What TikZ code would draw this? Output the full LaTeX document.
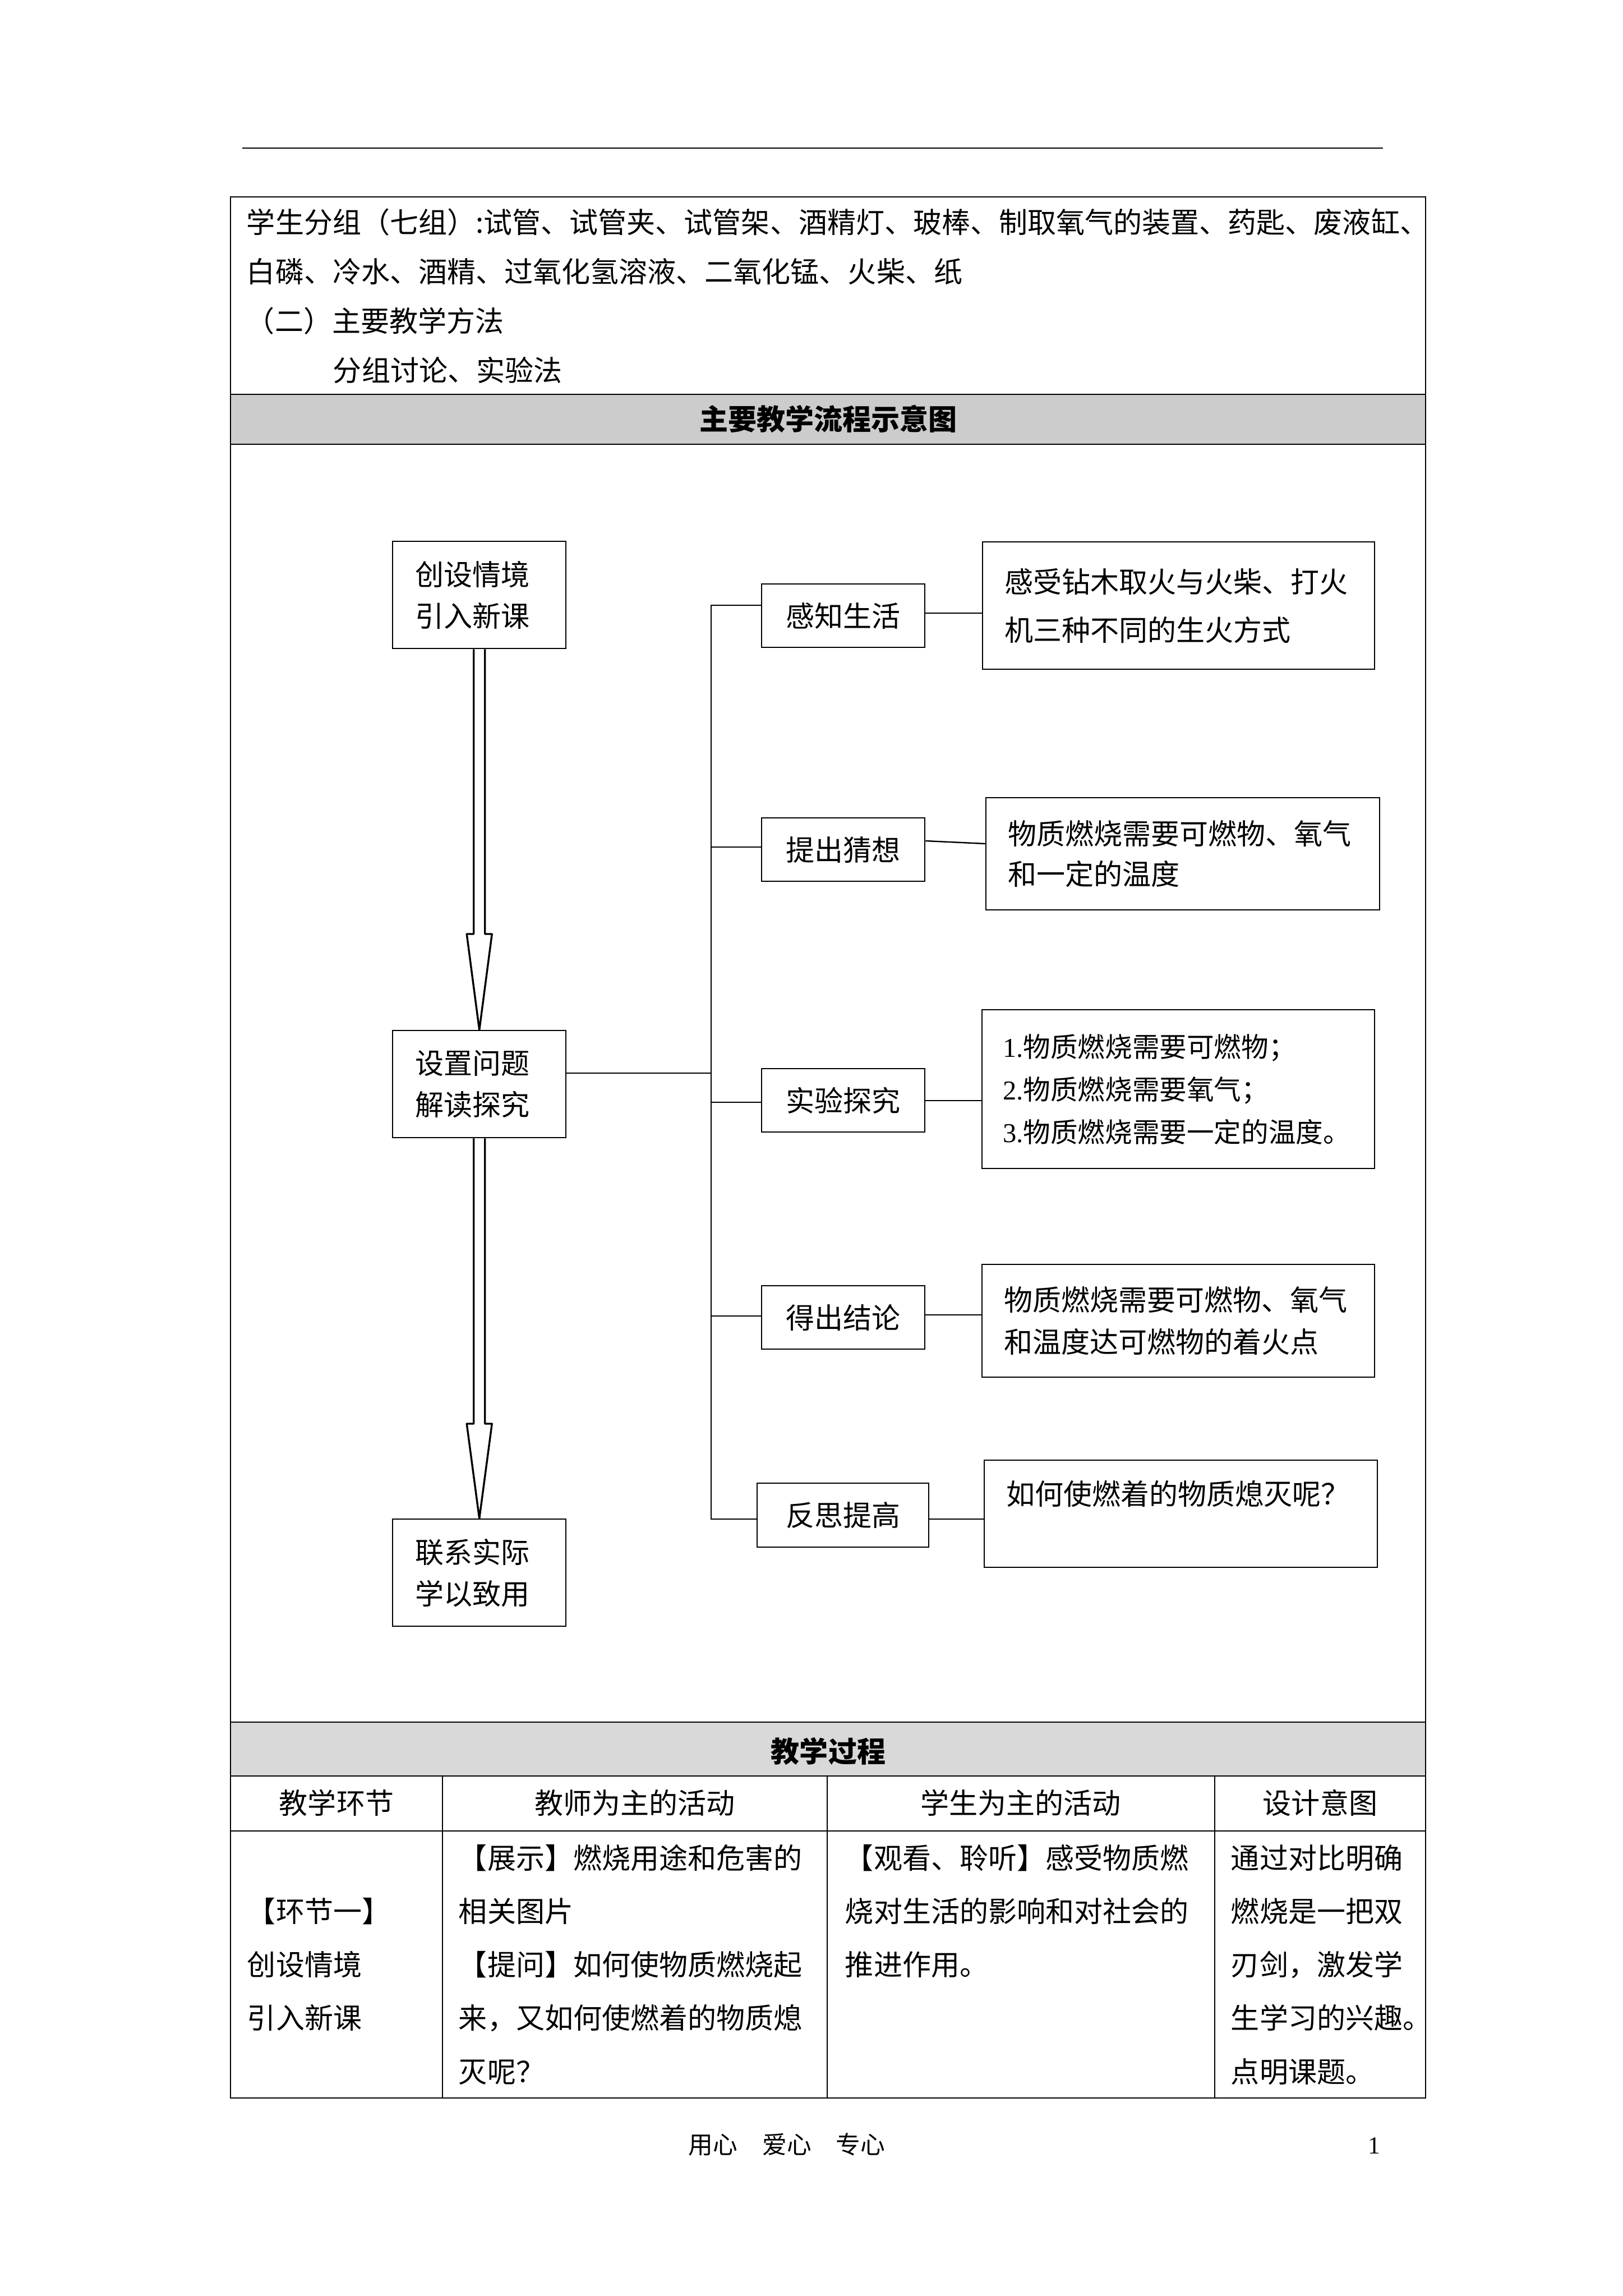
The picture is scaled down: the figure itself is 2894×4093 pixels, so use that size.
\documentclass[tikz,border=0pt]{standalone}
\usepackage{fontspec}
\setmainfont{Liberation Serif}
\newfontfamily\cjk{Noto Sans CJK SC}
\usetikzlibrary{calc}
\definecolor{bandA}{HTML}{CCCCCC}
\definecolor{bandB}{HTML}{D9D9D9}
\tikzset{
  tline/.style={line width=0.55pt},
  txt/.style={inner sep=0pt, font=\cjk\fontsize{10.5pt}{12pt}\selectfont},
  ttl/.style={inner sep=0pt, font=\cjk\bfseries\fontsize{10.5pt}{12pt}\selectfont},
  foot/.style={inner sep=0pt, font=\cjk\fontsize{9pt}{11pt}\selectfont},
  bigbox/.style={draw, line width=0.5pt, anchor=north west, minimum width=63.56pt, minimum height=39.29pt,
    inner xsep=8.23pt, inner ysep=0pt, text width=47.1pt, align=left,
    font=\cjk\fontsize{10.5pt}{15.2pt}\selectfont},
  smallbox/.style={draw, line width=0.5pt, anchor=north west, minimum width=59.86pt, minimum height=23.24pt,
    inner sep=0pt, font=\cjk\fontsize{10.5pt}{12pt}\selectfont},
  rbox/.style={draw, line width=0.5pt, anchor=north west, inner xsep=8pt, inner ysep=0pt, align=left},
  link/.style={line width=0.5pt},
  harrow/.style={line width=0.7pt, line join=round, fill=white},
}
\begin{document}
\begin{tikzpicture}[x=0.205693pt, y=-0.205693pt]
\useasboundingbox (0,0) rectangle (2894,4093);
\fill[white] (0,0) rectangle (2894,4093);

% page header line
\draw[line width=0.5pt] (432,264) -- (2466,264);

% table fills
\fill[bandA] (411,703) rectangle (2542,792);
\fill[bandB] (411,3070) rectangle (2542,3166);
% table lines
\draw[tline] (411,351) rectangle (2542,3740);
\draw[tline] (411,703) -- (2542,703);
\draw[tline] (411,792) -- (2542,792);
\draw[tline] (411,3070) -- (2542,3070);
\draw[tline] (411,3166) -- (2542,3166);
\draw[tline] (411,3264) -- (2542,3264);
\draw[tline] (789,3166) -- (789,3740);
\draw[tline] (1475,3166) -- (1475,3740);
\draw[tline] (2166,3166) -- (2166,3740);

% top cell text
\node[txt, anchor=base west] (p1) at (439,415) {学生分组（七组）:试管、试管夹、试管架、酒精灯、玻棒、制取氧气的装置、药匙、废液缸、};
\node[txt, anchor=base west] (p2) at (439,503) {白磷、冷水、酒精、过氧化氢溶液、二氧化锰、火柴、纸};
\node[txt, anchor=base west] (p3) at (438,591) {（二）主要教学方法};
\node[txt, anchor=base west] (p4) at (593,679) {分组讨论、实验法};

% band titles
\node[ttl, anchor=base] (title1) at (1477,766) {主要教学流程示意图};
\node[ttl, anchor=base] (title2) at (1477,3141) {教学过程};

% header row
\node[txt, anchor=base] (h1) at (600,3233) {教学环节};
\node[txt, anchor=base] (h2) at (1132,3233) {教师为主的活动};
\node[txt, anchor=base] (h3) at (1820,3233) {学生为主的活动};
\node[txt, anchor=base] (h4) at (2354,3233) {设计意图};

% body row
\node[txt, anchor=base west] (c1a) at (440,3426) {【环节一】};
\node[txt, anchor=base west] (c1b) at (440,3521) {创设情境};
\node[txt, anchor=base west] (c1c) at (440,3616) {引入新课};

\node[txt, anchor=base west] (c2a) at (817,3331) {【展示】燃烧用途和危害的};
\node[txt, anchor=base west] (c2b) at (817,3426) {相关图片};
\node[txt, anchor=base west] (c2c) at (817,3521) {【提问】如何使物质燃烧起};
\node[txt, anchor=base west] (c2d) at (817,3616) {来，又如何使燃着的物质熄};
\node[txt, anchor=base west] (c2e) at (817,3712) {灭呢？};

\node[txt, anchor=base west] (c3a) at (1506,3331) {【观看、聆听】感受物质燃};
\node[txt, anchor=base west] (c3b) at (1506,3426) {烧对生活的影响和对社会的};
\node[txt, anchor=base west] (c3c) at (1506,3521) {推进作用。};

\node[txt, anchor=base west] (c4a) at (2194,3331) {通过对比明确};
\node[txt, anchor=base west] (c4b) at (2194,3426) {燃烧是一把双};
\node[txt, anchor=base west] (c4c) at (2194,3521) {刃剑，激发学};
\node[txt, anchor=base west] (c4d) at (2194,3616) {生学习的兴趣。};
\node[txt, anchor=base west] (c4e) at (2194,3712) {点明课题。};

% footer
\node[foot, anchor=base west] (f1) at (1227,3839) {用心　爱心　专心};
\node[inner sep=0pt, anchor=base west, font=\fontsize{9pt}{11pt}\selectfont] (f2) at (2439,3839) {1};

% ---- flowchart ----
\node[bigbox] (A) at (699,964) {创设情境\\引入新课};
\node[bigbox] (B) at (699,1836) {设置问题\\解读探究};
\node[bigbox] (C) at (699,2707) {联系实际\\学以致用};

\node[smallbox] (gz) at (1357,1040) {感知生活};
\node[smallbox] (tc) at (1357,1457) {提出猜想};
\node[smallbox] (sy) at (1357,1904) {实验探究};
\node[smallbox] (dc) at (1357,2291) {得出结论};
\node[smallbox, minimum width=62.94pt, minimum height=23.45pt] (fs) at (1349,2643) {反思提高};

\node[rbox, minimum width=143.78pt, minimum height=46.69pt, text width=127.78pt,
  font=\cjk\fontsize{10.5pt}{17.7pt}\selectfont] (R1) at (1751,965)
  {感受钻木取火与火柴、打火\\机三种不同的生火方式};
\node[rbox, minimum width=144.40pt, minimum height=41.14pt, text width=128.40pt,
  font=\cjk\fontsize{10.5pt}{14.8pt}\selectfont] (R2) at (1757,1421)
  {物质燃烧需要可燃物、氧气\\和一定的温度};
\node[rbox, minimum width=143.99pt, minimum height=58.21pt, inner xsep=7.6pt, text width=128.79pt,
  font=\cjk\fontsize{10pt}{15.6pt}\selectfont] (R3) at (1750,1799)
  {{\rmfamily 1.}物质燃烧需要可燃物；\\{\rmfamily 2.}物质燃烧需要氧气；\\{\rmfamily 3.}物质燃烧需要一定的温度。};
\node[rbox, minimum width=143.99pt, minimum height=41.34pt, text width=127.99pt,
  font=\cjk\fontsize{10.5pt}{15.4pt}\selectfont] (R4) at (1750,2253)
  {物质燃烧需要可燃物、氧气\\和温度达可燃物的着火点};
\node[rbox, minimum width=144.19pt, minimum height=39.29pt, text width=128.19pt,
  font=\cjk\fontsize{10.5pt}{15.4pt}\selectfont] (R5) at (1754,2602)
  {如何使燃着的物质熄灭呢？\\\mbox{}};

% hollow arrows
\draw[harrow] ($(A.south)+(-10,0)$) -- ($(B.north)+(-10,-171)$) -- ($(B.north)+(-22.5,-171)$)
  -- (B.north) -- ($(B.north)+(22.5,-171)$) -- ($(B.north)+(10,-171)$) -- ($(A.south)+(10,0)$);
\draw[harrow] ($(B.south)+(-10,0)$) -- ($(C.north)+(-10,-169)$) -- ($(C.north)+(-22.5,-169)$)
  -- (C.north) -- ($(C.north)+(22.5,-169)$) -- ($(C.north)+(10,-169)$) -- ($(B.south)+(10,0)$);

% trunk and branches
\coordinate (ttop) at (1268,1079);
\coordinate (tbot) at (1268,2708);
\coordinate (t2) at (1268,1510);
\coordinate (t3) at (1268,1965);
\coordinate (t4) at (1268,2346);
\coordinate (tb) at (1268,1913);
\coordinate (r1) at (1700,1093);
\coordinate (r2a) at (1700,1499);
\coordinate (r2b) at (1700,1504);
\coordinate (r3) at (1700,1962);
\coordinate (r4) at (1700,2344);
\coordinate (r5) at (1700,2708);

\draw[link] (ttop -| gz.west) -- (ttop) -- (tbot) -- (tbot -| fs.west);
\draw[link] (t2) -- (t2 -| tc.west);
\draw[link] (t3) -- (t3 -| sy.west);
\draw[link] (t4) -- (t4 -| dc.west);
\draw[link] (tb -| B.east) -- (tb);
\draw[link] (r1 -| gz.east) -- (r1 -| R1.west);
\draw[link] (r2a -| tc.east) -- (r2b -| R2.west);
\draw[link] (r3 -| sy.east) -- (r3 -| R3.west);
\draw[link] (r4 -| dc.east) -- (r4 -| R4.west);
\draw[link] (r5 -| fs.east) -- (r5 -| R5.west);
\end{tikzpicture}
\end{document}
